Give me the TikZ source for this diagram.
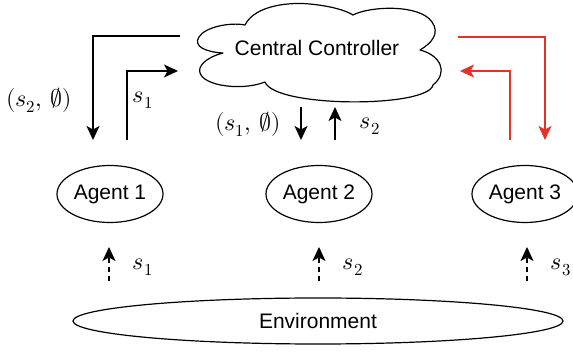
\documentclass[tikz,border=0pt]{standalone}
\usepackage{fontspec}
\usepackage{unicode-math}
\setmainfont{Liberation Sans}
\setmathfont{Latin Modern Math}
\usetikzlibrary{shapes.geometric,arrows.meta}
\definecolor{myred}{RGB}{228,50,40}
\begin{document}
\begin{tikzpicture}[x=1pt,y=-1pt, line width=1.2pt,
  txt/.style={font=\fontsize{21}{25}\selectfont},
  agent/.style={ellipse, draw, minimum width=106pt, minimum height=57pt, inner sep=0pt, txt},
  arr/.style={-{Stealth[length=14pt,width=13pt,inset=3.5pt]}},
  darr/.style={arr, dash pattern=on 5pt off 4pt},
  lab/.style={font=\fontsize{24}{28}\selectfont}]
\useasboundingbox (0,0) rectangle (573,352);
% cloud outline
\draw[line join=round] (223,53)
  .. controls (205,52) and (193,46) .. (199,37)
  .. controls (205,27) and (230,22) .. (245,25)
  .. controls (255,5) and (290,2) .. (310,4)
  .. controls (330,6) and (345,10) .. (353,15)
  .. controls (370,6) and (420,4) .. (432,22)
  .. controls (440,33) and (432,43) .. (420,50)
  .. controls (440,55) and (449,72) .. (433,85)
  .. controls (428,108) and (275,108) .. (265,82)
  .. controls (240,92) and (195,85) .. (200,68)
  .. controls (203,60) and (215,55) .. (223,53) -- cycle;
\node[txt] (cc) at (317,48) {Central Controller};
\node[agent] (a1) at (110,194) {Agent 1};
\node[agent] (a2) at (319,194) {Agent 2};
\node[agent] (a3) at (525,194) {Agent 3};
\node[ellipse, draw, minimum width=490pt, minimum height=46pt, txt] (env) at (318,321) {Environment};
% free ends
\coordinate (p1) at (180,36);  \coordinate (p2) at (93,140);
\coordinate (p3) at (127,140); \coordinate (p4) at (178,71);
\coordinate (p5) at (301,107); \coordinate (p6) at (301,140);
\coordinate (p7) at (335,140); \coordinate (p8) at (335,107);
\coordinate (p9) at (458,37);  \coordinate (p10) at (545,140);
\coordinate (p11) at (510,140); \coordinate (p12) at (460,71);
\coordinate (e1) at (109,281); \coordinate (f1) at (109,247);
\coordinate (e2) at (319,281); \coordinate (f2) at (319,247);
\coordinate (e3) at (527,281); \coordinate (f3) at (527,247);
\draw[arr] (p1) -| (p2);
\draw[arr] (p3) |- (p4);
\draw[arr] (p5) -- (p6);
\draw[arr] (p7) -- (p8);
\draw[arr, myred] (p9) -| (p10);
\draw[arr, myred] (p11) |- (p12);
\draw[darr] (e1) -- (f1);
\draw[darr] (e2) -- (f2);
\draw[darr] (e3) -- (f3);
\node[lab] (l1) at (39,100) {$(s_2,\,\emptyset)$};
\node[lab] (l2) at (143,100) {$s_1$};
\node[lab] (l3) at (248,124) {$(s_1,\,\emptyset)$};
\node[lab] (l4) at (370,126) {$s_2$};
\node[lab] (l5) at (143,267) {$s_1$};
\node[lab] (l6) at (353,267) {$s_2$};
\node[lab] (l7) at (561,267) {$s_3$};
\end{tikzpicture}
\end{document}
